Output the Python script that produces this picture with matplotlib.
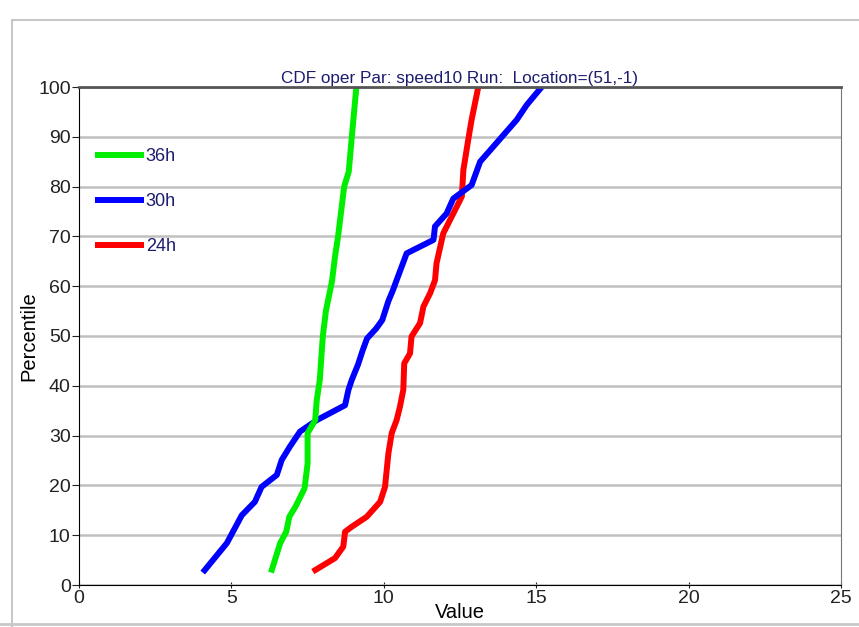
import matplotlib.pyplot as plt
from matplotlib.lines import Line2D

plt.rcParams['font.family'] = ['Liberation Sans', 'DejaVu Sans']

# percentile curves
green_x = [6.3, 6.6, 6.8, 6.9, 7.1, 7.4, 7.5, 7.5, 7.75, 7.8, 7.9, 8.0, 8.1,
           8.3, 8.4, 8.5, 8.6, 8.7, 8.85, 8.95, 9.1]
green_y = [2.5, 8.4, 10.7, 13.7, 15.7, 19.4, 24.4, 30.5, 33.1, 37.1, 41.2, 50,
           55, 61, 66, 70, 75, 80, 83, 90, 100]

blue_x = [4.06, 4.85, 5.34, 5.77, 5.99, 6.49, 6.65, 6.92, 7.25, 7.8, 8.73, 8.84,
          8.95, 9.15, 9.3, 9.45, 9.75, 9.95, 10.15, 10.3, 10.42, 10.75, 11.63,
          11.68, 12.06, 12.28, 12.88, 13.16, 13.59, 14.36, 14.69, 15.18]
blue_y = [2.5, 8.4, 14, 16.7, 19.7, 22.1, 25.1, 27.8, 30.8, 33.1, 36.1, 39.2,
          41.2, 44.2, 47, 49.5, 51.5, 53.2, 57, 59.2, 61.2, 66.6, 69.3, 72, 74.6,
          77.6, 80.3, 85, 88, 93.4, 96.4, 100]

red_x = [7.67, 8.4, 8.67, 8.73, 8.95, 9.44, 9.88, 10.04, 10.15, 10.26, 10.42,
         10.53, 10.64, 10.67, 10.86, 10.91, 11.19, 11.3, 11.52, 11.68, 11.73,
         11.95, 12.28, 12.56, 12.61, 12.77, 12.88, 13.1]
red_y = [2.7, 5.4, 7.7, 10.7, 11.7, 13.7, 16.7, 19.7, 26.4, 30.5, 33.1, 35.8,
         39.2, 44.5, 46.5, 49.9, 52.6, 55.9, 58.6, 61.2, 64.6, 70.6, 74.6, 78,
         83.3, 89.4, 93.4, 100]

navy = '#1c1c6e'

fig = plt.figure(figsize=(8.59, 6.27), dpi=100)
ax = fig.add_axes([79 / 859, 42 / 627, 762 / 859, 498 / 627])

ax.plot(red_x, red_y, color='#ff0000', lw=4.3, label='24h', solid_capstyle='butt')
ax.plot(blue_x, blue_y, color='#0000ff', lw=4.3, label='30h', solid_capstyle='butt')
ax.plot(green_x, green_y, color='#00ee00', lw=4.3, label='36h', solid_capstyle='butt')

ax.set_xlim(0, 25)
ax.set_ylim(0, 100)
ax.set_xticks(range(0, 26, 5))
ax.set_yticks(range(0, 101, 10))
ax.yaxis.grid(True, color='#c0c0c0', lw=1.8)
ax.set_axisbelow(True)
ax.tick_params(axis='both', labelsize=14, colors='#222222', length=5)
ax.tick_params(axis='x', direction='inout', pad=1)
ax.tick_params(axis='y', pad=1)

ax.spines['left'].set_color('black')
ax.spines['bottom'].set_color('black')
ax.spines['top'].set_color('#555555')
ax.spines['top'].set_linewidth(2)
ax.spines['right'].set_color('#777777')

ax.set_xlabel('Value', fontsize=14.5, labelpad=-3)
ax.set_ylabel('Percentile', fontsize=14.5, labelpad=0)
ax.set_title('CDF oper Par: speed10 Run:  Location=(51,-1)', fontsize=12.3,
             color=navy, pad=3)

handles, labels = ax.get_legend_handles_labels()
leg = ax.legend(handles[::-1], labels[::-1], loc='upper left',
                bbox_to_anchor=(0.0, 0.91), frameon=False, fontsize=13,
                handlelength=2.7, handletextpad=0.1, labelspacing=1.55)
for t in leg.get_texts():
    t.set_color(navy)

# window frame of the screenshot
fig.add_artist(Line2D([12 / 859, 12 / 859], [0, 607 / 627], color='#c8c8c8', lw=1.5))
fig.add_artist(Line2D([12 / 859, 1], [607 / 627, 607 / 627], color='#c8c8c8', lw=1.5))
fig.add_artist(Line2D([0, 1], [3 / 627, 3 / 627], color='#c8c8c8', lw=2))

fig.savefig('out.png', dpi=100)
